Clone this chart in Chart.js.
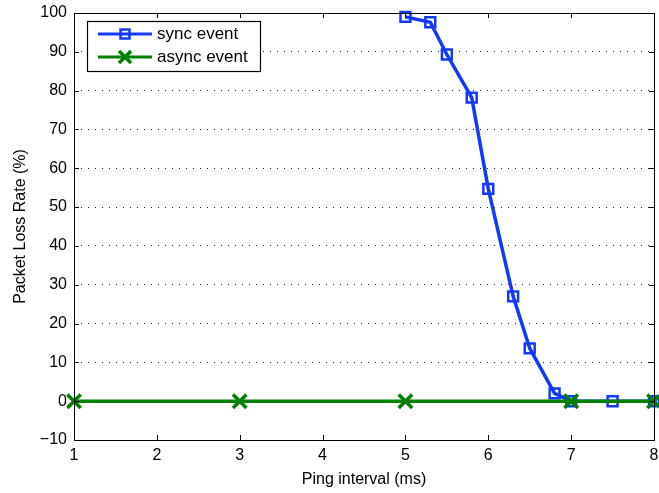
<!DOCTYPE html>
<html><head><meta charset="utf-8">
<script src="https://cdn.jsdelivr.net/npm/chart.js@4.4.0/dist/chart.umd.min.js"></script>
<style>html,body{margin:0;padding:0;background:#fff;overflow:hidden}#wrap{width:659px;height:493px}canvas{display:block}</style>
</head><body><div id="wrap"><canvas id="c" width="659" height="493"></canvas></div>
<script>
const syncX = [5, 5.3, 5.5, 5.8, 6, 6.3, 6.5, 6.8, 7, 7.5, 8];
const syncY = [99, 97.6, 89.3, 78.2, 54.7, 27, 13.6, 2, 0, 0, 0];
const asyncX = [1, 3, 5, 7, 8];
const asyncY = [0, 0, 0, 0, 0];
const seriesLabels = ['sync event', 'async event'];
const xTicks = [1, 2, 3, 4, 5, 6, 7, 8];
const yTicks = [-10, 0, 10, 20, 30, 40, 50, 60, 70, 80, 90, 100];

const BLUE = '#1438ff', GREEN = '#008000';
const FONT = '"Liberation Sans", Arial, Helvetica, sans-serif';

const frame = {
  id: 'frame',
  afterDatasetsDraw(chart) {
    const {ctx, chartArea: a, scales} = chart;
    ctx.save();
    ctx.strokeStyle = '#000'; ctx.lineWidth = 1;
    ctx.strokeRect(Math.round(a.left)+0.5, Math.round(a.top)+0.5, Math.round(a.right-a.left), Math.round(a.bottom-a.top));
    const L = 5;
    ctx.beginPath();
    xTicks.forEach(v => {
      const x = Math.round(scales.x.getPixelForValue(v)) + 0.5;
      ctx.moveTo(x, a.bottom); ctx.lineTo(x, a.bottom - L);
      ctx.moveTo(x, a.top); ctx.lineTo(x, a.top + L);
    });
    yTicks.forEach(v => {
      const y = Math.round(scales.y.getPixelForValue(v)) + 0.5;
      ctx.moveTo(a.left, y); ctx.lineTo(a.left + L, y);
      ctx.moveTo(a.right, y); ctx.lineTo(a.right - L, y);
    });
    ctx.stroke();
    // legend
    const bx = a.left + 13, by = a.top + 8, bw = 173, bh = 50;
    ctx.fillStyle = '#fff';
    ctx.fillRect(bx, by, bw, bh);
    ctx.strokeStyle = '#000'; ctx.lineWidth = 1.2;
    ctx.strokeRect(bx + 0.5, by + 0.5, bw, bh);
    chart.data.datasets.forEach((ds, i) => {
      const y = by + 13 + i * 23;
      const x0 = bx + 11, x1 = bx + 65, xm = (x0 + x1) / 2;
      ctx.strokeStyle = ds.borderColor; ctx.lineWidth = 3;
      ctx.beginPath(); ctx.moveTo(x0, y); ctx.lineTo(x1, y); ctx.stroke();
      ctx.lineWidth = ds.pointBorderWidth;
      ctx.beginPath();
      if (ds.pointStyle === 'rect') {
        ctx.strokeRect(xm - 4.5, y - 4.5, 9, 9);
      } else {
        const r = 6;
        ctx.moveTo(xm - r, y - r); ctx.lineTo(xm + r, y + r);
        ctx.moveTo(xm + r, y - r); ctx.lineTo(xm - r, y + r);
        ctx.stroke();
      }
      ctx.fillStyle = '#000';
      ctx.font = '17px ' + FONT;
      ctx.textBaseline = 'middle'; ctx.textAlign = 'left';
      ctx.fillText(ds.label, x1 + 5, y);
    });
    ctx.restore();
  }
};

new Chart(document.getElementById('c'), {
  type: 'line',
  data: {
    datasets: [
      { label: seriesLabels[0], data: syncX.map((x, i) => ({x, y: syncY[i]})),
        borderColor: BLUE, backgroundColor: 'rgba(0,0,0,0)', borderWidth: 3.5,
        pointStyle: 'rect', pointRadius: 7, pointBorderWidth: 2.5, pointBorderColor: BLUE,
        pointBackgroundColor: 'rgba(0,0,0,0)', tension: 0, order: 1, clip: false },
      { label: seriesLabels[1], data: asyncX.map((x, i) => ({x, y: asyncY[i]})),
        borderColor: GREEN, backgroundColor: 'rgba(0,0,0,0)', borderWidth: 3.5,
        pointStyle: 'crossRot', pointRadius: 9.5, pointBorderWidth: 3.5, pointBorderColor: GREEN,
        tension: 0, order: 0, clip: false }
    ]
  },
  options: {
    responsive: false, animation: false, devicePixelRatio: 1,
    layout: { autoPadding: false, padding: { left: 0, top: 13, right: 5, bottom: 0 } },
    plugins: { legend: { display: false }, tooltip: { enabled: false } },
    scales: {
      x: {
        type: 'linear', min: 1, max: 8,
        afterBuildTicks: s => { s.ticks = xTicks.map(v => ({value: v})); },
        afterFit: s => { s.height = 53; s.paddingLeft = 0; s.paddingRight = 0; },
        grid: { display: false, drawTicks: false },
        border: { display: false },
        ticks: { color: '#000', font: { family: FONT, size: 16 }, padding: 6, maxRotation: 0 },
        title: { display: true, text: 'Ping interval (ms)', color: '#000', font: { family: FONT, size: 16 }, padding: { top: 0, bottom: 4 } }
      },
      y: {
        type: 'linear', min: -10, max: 100,
        afterBuildTicks: s => { s.ticks = yTicks.map(v => ({value: v})); },
        afterFit: s => { s.width = 74; s.paddingTop = 0; s.paddingBottom = 0; },
        grid: { color: '#222', lineWidth: 1, drawTicks: false, borderDash: [1, 6] },
        border: { display: false, dash: [1, 6] },
        ticks: { color: '#000', font: { family: FONT, size: 16 }, padding: 7,
                 callback: v => String(v).replace('-', '\u2212') },
        title: { display: true, text: 'Packet Loss Rate (%)', color: '#000', font: { family: FONT, size: 16 }, padding: { top: 11, bottom: 0 } }
      }
    }
  },
  plugins: [frame]
});
</script></body></html>
